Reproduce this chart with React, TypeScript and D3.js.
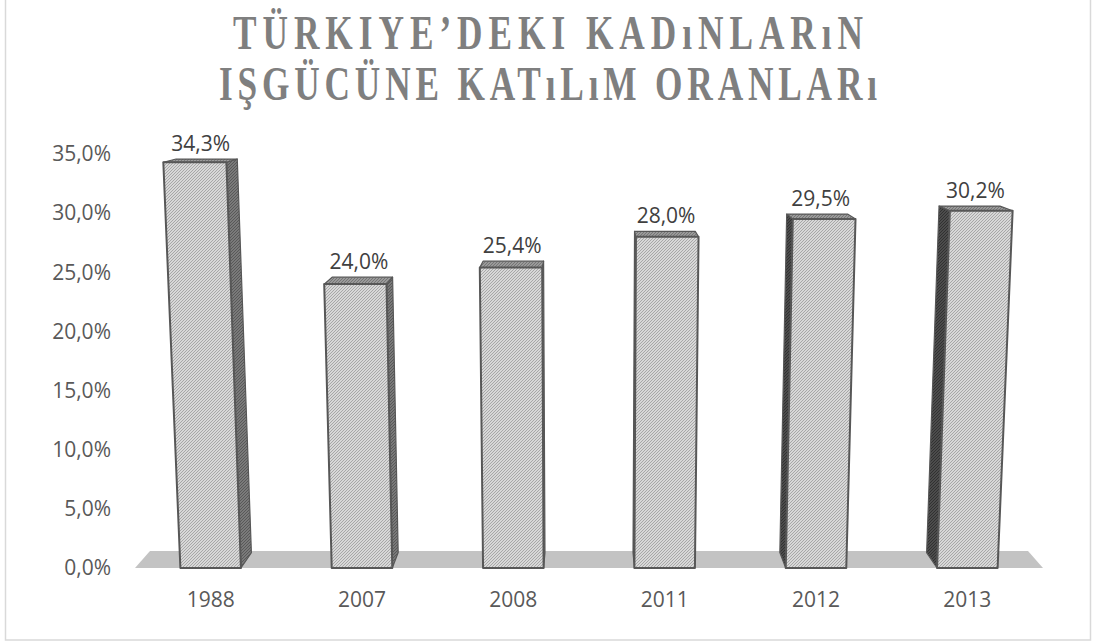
import React from "react";
import * as d3 from "d3";

const categories = ["1988", "2007", "2008", "2011", "2012", "2013"];
const values = [34.3, 24.0, 25.4, 28.0, 29.5, 30.2];
const yTicks = [0, 5, 10, 15, 20, 25, 30, 35];
const titleLines = ["TÜRKIYE’DEKI KADıNLARıN", "IŞGÜCÜNE KATıLıM ORANLARı"];

const W = 1096;
const H = 644;

export default function App() {
  const floorFrontY = 568;
  const floorLeft = 135;
  const floorRight = 1043;
  const cx = (floorLeft + floorRight) / 2;
  const vp = { x: cx, y: 54 };
  const lean = 1.03e-4;
  const barDepth = 0.03;
  const floorDepth = 0.033;

  const y = d3.scaleLinear().domain([0, 35]).range([floorFrontY, 154]);
  const x = d3
    .scaleBand<string>()
    .domain(categories)
    .range([floorLeft, floorRight])
    .paddingInner(0.6)
    .paddingOuter(0.3);

  const proj = (X: number, Y: number, t: number): [number, number] => {
    const h = floorFrontY - Y;
    const sx = cx + (X - cx) * (1 + lean * h);
    const sy = Y;
    return [sx + t * (vp.x - sx), sy + t * (vp.y - sy)];
  };
  const poly = (pts: [number, number][]) =>
    pts.map((p) => `${p[0].toFixed(2)},${p[1].toFixed(2)}`).join(" ");

  const fmt = (v: number) => d3.format(".1f")(v).replace(".", ",") + "%";

  const floorPts: [number, number][] = [
    proj(floorLeft, floorFrontY, 0),
    proj(floorRight, floorFrontY, 0),
    proj(floorRight, floorFrontY, floorDepth),
    proj(floorLeft, floorFrontY, floorDepth),
  ];

  const bw = x.bandwidth();
  const stroke = "#575757";

  const bars = categories.map((c, i) => {
    const X0 = x(c)!;
    const X1 = X0 + bw;
    const yt = y(values[i]);
    const FBL = proj(X0, floorFrontY, 0);
    const FBR = proj(X1, floorFrontY, 0);
    const FTL = proj(X0, yt, 0);
    const FTR = proj(X1, yt, 0);
    const BTL = proj(X0, yt, barDepth);
    const BTR = proj(X1, yt, barDepth);
    const BBL = proj(X0, floorFrontY, barDepth);
    const BBR = proj(X1, floorFrontY, barDepth);
    const showRight = X1 < vp.x;
    const showLeft = X0 > vp.x;
    const labelX = (FTL[0] + FTR[0] + BTL[0] + BTR[0]) / 4;
    const labelY = Math.min(BTL[1], BTR[1]) - 8;
    return (
      <g key={c}>
        {showRight && (
          <polygon
            points={poly([FBR, FTR, BTR, BBR])}
            fill="url(#hatchRight)"
            stroke={stroke}
            strokeWidth={1.2}
            strokeLinejoin="round"
          />
        )}
        {showLeft && (
          <polygon
            points={poly([FBL, FTL, BTL, BBL])}
            fill="url(#hatchLeft)"
            stroke={stroke}
            strokeWidth={1.2}
            strokeLinejoin="round"
          />
        )}
        <polygon
          points={poly([FTL, FTR, BTR, BTL])}
          fill="url(#hatchTop)"
          stroke={stroke}
          strokeWidth={1.2}
          strokeLinejoin="round"
        />
        <polygon
          points={poly([FBL, FBR, FTR, FTL])}
          fill="url(#hatchFront)"
          stroke={stroke}
          strokeWidth={2}
          strokeLinejoin="round"
        />
        <text
          x={labelX}
          y={labelY}
          textAnchor="middle"
          fontFamily="'Open Sans', sans-serif"
          fontSize={21}
          fill="#404040"
        >
          {fmt(values[i])}
        </text>
        <text
          x={(FBL[0] + FBR[0]) / 2}
          y={607}
          textAnchor="middle"
          fontFamily="'Open Sans', sans-serif"
          fontSize={21}
          fill="#595959"
        >
          {c}
        </text>
      </g>
    );
  });

  const hatch = (id: string, bg: string, fg: string) => (
    <pattern id={id} width={3} height={3} patternUnits="userSpaceOnUse">
      <rect width={3} height={3} fill={bg} />
      <path d="M-1,1 l2,-2 M0,3 l3,-3 M2,4 l2,-2" stroke={fg} strokeWidth={0.9} />
    </pattern>
  );

  const titleScale = 0.72;

  return (
    <svg
      width={W}
      height={H}
      style={{ position: "absolute", left: 0, top: 0, background: "#fff" }}
    >
      <defs>
        {hatch("hatchFront", "#d8d8d8", "#a2a2a2")}
        {hatch("hatchTop", "#9a9a9a", "#707070")}
        {hatch("hatchRight", "#7a7a7a", "#555555")}
        {hatch("hatchLeft", "#4c4c4c", "#2e2e2e")}
      </defs>
      <rect x={5.5} y={-2} width={1085} height={642} fill="#fff" stroke="#d9d9d9" strokeWidth={1.5} />

      <g transform={`scale(${titleScale},1)`}>
        {titleLines.map((t, i) => (
          <text
            key={i}
            x={548 / titleScale}
            y={i === 0 ? 49 : 100}
            textAnchor="middle"
            fontFamily="'Liberation Serif', 'Times New Roman', serif"
            fontWeight="bold"
            fontSize={49}
            fill="#7f7f7f"
            textLength={(i === 0 ? 630 : 658) / titleScale}
            lengthAdjust="spacing"
          >
            {t}
          </text>
        ))}
      </g>

      <polygon points={poly(floorPts)} fill="#c3c3c3" />

      {yTicks.map((v) => (
        <text
          key={v}
          x={111}
          y={y(v)}
          dy="0.35em"
          textAnchor="end"
          fontFamily="'Open Sans', sans-serif"
          fontSize={21}
          fill="#595959"
        >
          {fmt(v)}
        </text>
      ))}

      {bars}
    </svg>
  );
}
